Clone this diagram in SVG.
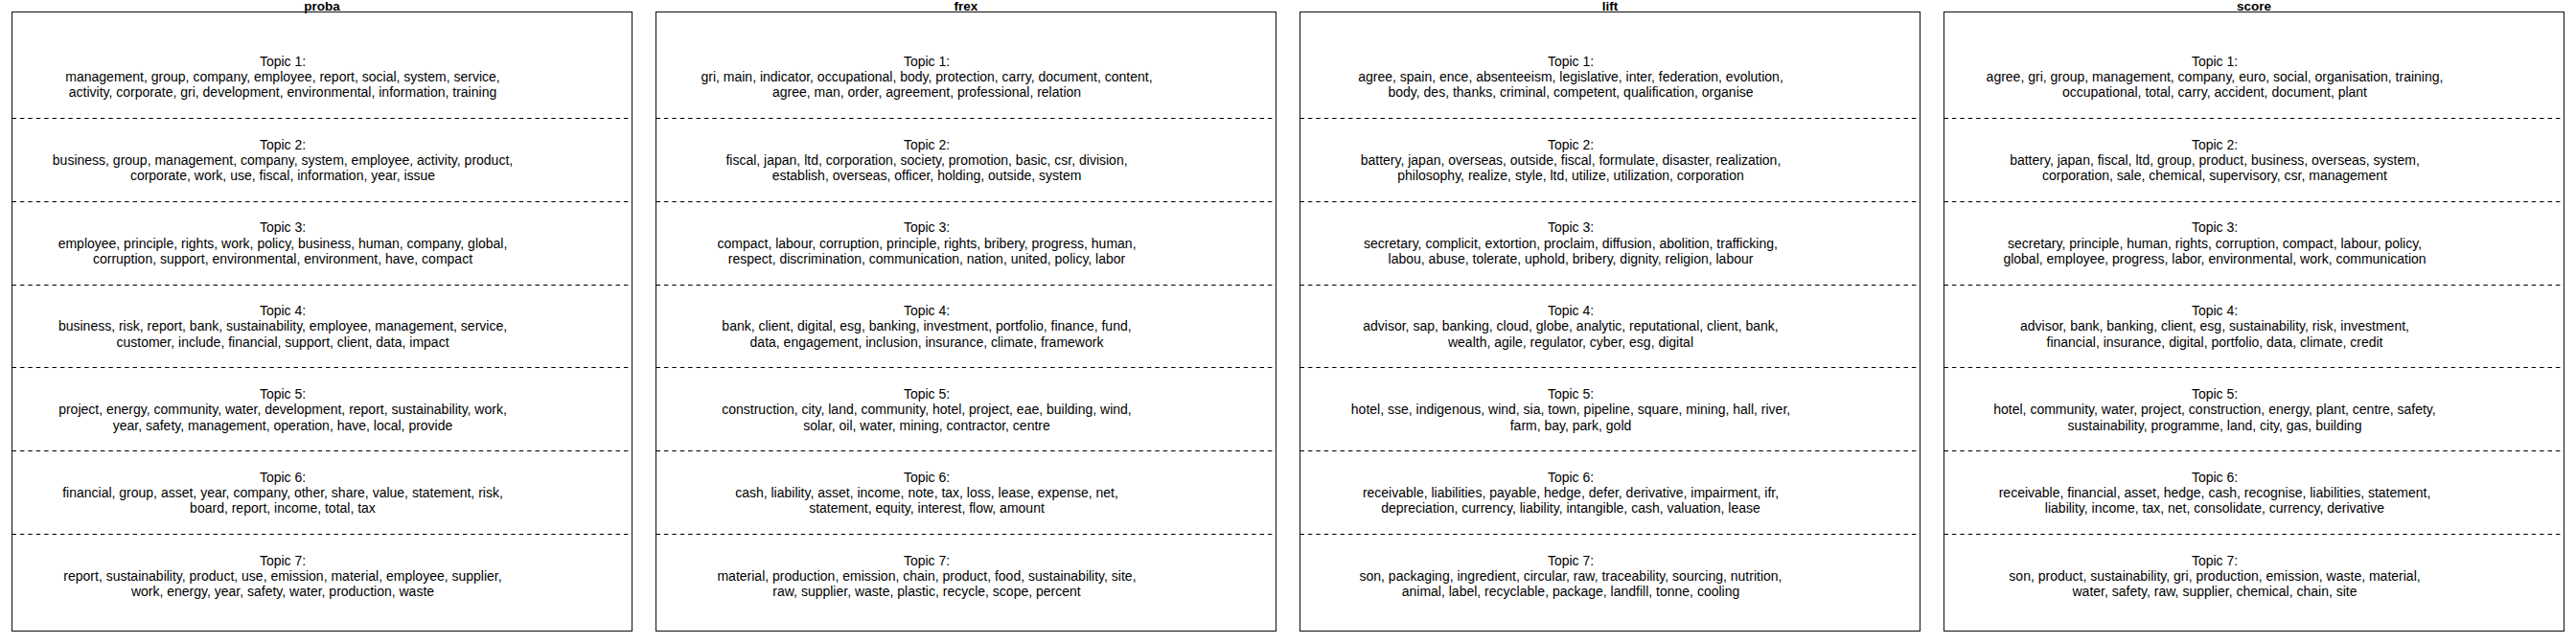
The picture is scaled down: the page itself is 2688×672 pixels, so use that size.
<svg xmlns="http://www.w3.org/2000/svg" width="2688" height="672" viewBox="0 0 2688 672">
<style>
.t{font-family:"Liberation Sans",Arial,Helvetica,sans-serif;font-size:14px;text-anchor:middle;fill:#000}
.h{font-family:"Liberation Sans",Arial,Helvetica,sans-serif;font-size:13.5px;font-weight:bold;text-anchor:middle;fill:#000}
.frame{fill:none;stroke:#222;stroke-width:1.2}
.sep{fill:none;stroke:#000;stroke-width:1;stroke-dasharray:4.5 3.9}
</style>
<rect x="0" y="0" width="2688" height="672" fill="#fff"/>

<g id="col-proba">
<text class="h" x="336" y="11">proba</text>
<rect class="frame" x="12.5" y="12.5" width="647" height="646"/>
<g class="seps">
<line class="sep" x1="12.5" y1="123.5" x2="659.5" y2="123.5"/>
<line class="sep" x1="12.5" y1="210.5" x2="659.5" y2="210.5"/>
<line class="sep" x1="12.5" y1="297.5" x2="659.5" y2="297.5"/>
<line class="sep" x1="12.5" y1="383.5" x2="659.5" y2="383.5"/>
<line class="sep" x1="12.5" y1="470.5" x2="659.5" y2="470.5"/>
<line class="sep" x1="12.5" y1="557.5" x2="659.5" y2="557.5"/>
</g>
<g id="proba-t1"><text class="t" x="295" y="68.7">Topic 1:</text><text class="t" x="295" y="85">management, group, company, employee, report, social, system, service,</text><text class="t" x="295" y="101.3">activity, corporate, gri, development, environmental, information, training</text></g>
<g id="proba-t2"><text class="t" x="295" y="155.5">Topic 2:</text><text class="t" x="295" y="171.8">business, group, management, company, system, employee, activity, product,</text><text class="t" x="295" y="188.1">corporate, work, use, fiscal, information, year, issue</text></g>
<g id="proba-t3"><text class="t" x="295" y="242.3">Topic 3:</text><text class="t" x="295" y="258.6">employee, principle, rights, work, policy, business, human, company, global,</text><text class="t" x="295" y="274.9">corruption, support, environmental, environment, have, compact</text></g>
<g id="proba-t4"><text class="t" x="295" y="329.1">Topic 4:</text><text class="t" x="295" y="345.4">business, risk, report, bank, sustainability, employee, management, service,</text><text class="t" x="295" y="361.7">customer, include, financial, support, client, data, impact</text></g>
<g id="proba-t5"><text class="t" x="295" y="415.9">Topic 5:</text><text class="t" x="295" y="432.2">project, energy, community, water, development, report, sustainability, work,</text><text class="t" x="295" y="448.5">year, safety, management, operation, have, local, provide</text></g>
<g id="proba-t6"><text class="t" x="295" y="502.7">Topic 6:</text><text class="t" x="295" y="519">financial, group, asset, year, company, other, share, value, statement, risk,</text><text class="t" x="295" y="535.3">board, report, income, total, tax</text></g>
<g id="proba-t7"><text class="t" x="295" y="589.5">Topic 7:</text><text class="t" x="295" y="605.8">report, sustainability, product, use, emission, material, employee, supplier,</text><text class="t" x="295" y="622.1">work, energy, year, safety, water, production, waste</text></g>
</g>

<g id="col-frex" transform="translate(672,0)">
<text class="h" x="336" y="11">frex</text>
<rect class="frame" x="12.5" y="12.5" width="647" height="646"/>
<g class="seps">
<line class="sep" x1="12.5" y1="123.5" x2="659.5" y2="123.5"/>
<line class="sep" x1="12.5" y1="210.5" x2="659.5" y2="210.5"/>
<line class="sep" x1="12.5" y1="297.5" x2="659.5" y2="297.5"/>
<line class="sep" x1="12.5" y1="383.5" x2="659.5" y2="383.5"/>
<line class="sep" x1="12.5" y1="470.5" x2="659.5" y2="470.5"/>
<line class="sep" x1="12.5" y1="557.5" x2="659.5" y2="557.5"/>
</g>
<g id="frex-t1"><text class="t" x="295" y="68.7">Topic 1:</text><text class="t" x="295" y="85">gri, main, indicator, occupational, body, protection, carry, document, content,</text><text class="t" x="295" y="101.3">agree, man, order, agreement, professional, relation</text></g>
<g id="frex-t2"><text class="t" x="295" y="155.5">Topic 2:</text><text class="t" x="295" y="171.8">fiscal, japan, ltd, corporation, society, promotion, basic, csr, division,</text><text class="t" x="295" y="188.1">establish, overseas, officer, holding, outside, system</text></g>
<g id="frex-t3"><text class="t" x="295" y="242.3">Topic 3:</text><text class="t" x="295" y="258.6">compact, labour, corruption, principle, rights, bribery, progress, human,</text><text class="t" x="295" y="274.9">respect, discrimination, communication, nation, united, policy, labor</text></g>
<g id="frex-t4"><text class="t" x="295" y="329.1">Topic 4:</text><text class="t" x="295" y="345.4">bank, client, digital, esg, banking, investment, portfolio, finance, fund,</text><text class="t" x="295" y="361.7">data, engagement, inclusion, insurance, climate, framework</text></g>
<g id="frex-t5"><text class="t" x="295" y="415.9">Topic 5:</text><text class="t" x="295" y="432.2">construction, city, land, community, hotel, project, eae, building, wind,</text><text class="t" x="295" y="448.5">solar, oil, water, mining, contractor, centre</text></g>
<g id="frex-t6"><text class="t" x="295" y="502.7">Topic 6:</text><text class="t" x="295" y="519">cash, liability, asset, income, note, tax, loss, lease, expense, net,</text><text class="t" x="295" y="535.3">statement, equity, interest, flow, amount</text></g>
<g id="frex-t7"><text class="t" x="295" y="589.5">Topic 7:</text><text class="t" x="295" y="605.8">material, production, emission, chain, product, food, sustainability, site,</text><text class="t" x="295" y="622.1">raw, supplier, waste, plastic, recycle, scope, percent</text></g>
</g>

<g id="col-lift" transform="translate(1344,0)">
<text class="h" x="336" y="11">lift</text>
<rect class="frame" x="12.5" y="12.5" width="647" height="646"/>
<g class="seps">
<line class="sep" x1="12.5" y1="123.5" x2="659.5" y2="123.5"/>
<line class="sep" x1="12.5" y1="210.5" x2="659.5" y2="210.5"/>
<line class="sep" x1="12.5" y1="297.5" x2="659.5" y2="297.5"/>
<line class="sep" x1="12.5" y1="383.5" x2="659.5" y2="383.5"/>
<line class="sep" x1="12.5" y1="470.5" x2="659.5" y2="470.5"/>
<line class="sep" x1="12.5" y1="557.5" x2="659.5" y2="557.5"/>
</g>
<g id="lift-t1"><text class="t" x="295" y="68.7">Topic 1:</text><text class="t" x="295" y="85">agree, spain, ence, absenteeism, legislative, inter, federation, evolution,</text><text class="t" x="295" y="101.3">body, des, thanks, criminal, competent, qualification, organise</text></g>
<g id="lift-t2"><text class="t" x="295" y="155.5">Topic 2:</text><text class="t" x="295" y="171.8">battery, japan, overseas, outside, fiscal, formulate, disaster, realization,</text><text class="t" x="295" y="188.1">philosophy, realize, style, ltd, utilize, utilization, corporation</text></g>
<g id="lift-t3"><text class="t" x="295" y="242.3">Topic 3:</text><text class="t" x="295" y="258.6">secretary, complicit, extortion, proclaim, diffusion, abolition, trafficking,</text><text class="t" x="295" y="274.9">labou, abuse, tolerate, uphold, bribery, dignity, religion, labour</text></g>
<g id="lift-t4"><text class="t" x="295" y="329.1">Topic 4:</text><text class="t" x="295" y="345.4">advisor, sap, banking, cloud, globe, analytic, reputational, client, bank,</text><text class="t" x="295" y="361.7">wealth, agile, regulator, cyber, esg, digital</text></g>
<g id="lift-t5"><text class="t" x="295" y="415.9">Topic 5:</text><text class="t" x="295" y="432.2">hotel, sse, indigenous, wind, sia, town, pipeline, square, mining, hall, river,</text><text class="t" x="295" y="448.5">farm, bay, park, gold</text></g>
<g id="lift-t6"><text class="t" x="295" y="502.7">Topic 6:</text><text class="t" x="295" y="519">receivable, liabilities, payable, hedge, defer, derivative, impairment, ifr,</text><text class="t" x="295" y="535.3">depreciation, currency, liability, intangible, cash, valuation, lease</text></g>
<g id="lift-t7"><text class="t" x="295" y="589.5">Topic 7:</text><text class="t" x="295" y="605.8">son, packaging, ingredient, circular, raw, traceability, sourcing, nutrition,</text><text class="t" x="295" y="622.1">animal, label, recyclable, package, landfill, tonne, cooling</text></g>
</g>

<g id="col-score" transform="translate(2016,0)">
<text class="h" x="336" y="11">score</text>
<rect class="frame" x="12.5" y="12.5" width="647" height="646"/>
<g class="seps">
<line class="sep" x1="12.5" y1="123.5" x2="659.5" y2="123.5"/>
<line class="sep" x1="12.5" y1="210.5" x2="659.5" y2="210.5"/>
<line class="sep" x1="12.5" y1="297.5" x2="659.5" y2="297.5"/>
<line class="sep" x1="12.5" y1="383.5" x2="659.5" y2="383.5"/>
<line class="sep" x1="12.5" y1="470.5" x2="659.5" y2="470.5"/>
<line class="sep" x1="12.5" y1="557.5" x2="659.5" y2="557.5"/>
</g>
<g id="score-t1"><text class="t" x="295" y="68.7">Topic 1:</text><text class="t" x="295" y="85">agree, gri, group, management, company, euro, social, organisation, training,</text><text class="t" x="295" y="101.3">occupational, total, carry, accident, document, plant</text></g>
<g id="score-t2"><text class="t" x="295" y="155.5">Topic 2:</text><text class="t" x="295" y="171.8">battery, japan, fiscal, ltd, group, product, business, overseas, system,</text><text class="t" x="295" y="188.1">corporation, sale, chemical, supervisory, csr, management</text></g>
<g id="score-t3"><text class="t" x="295" y="242.3">Topic 3:</text><text class="t" x="295" y="258.6">secretary, principle, human, rights, corruption, compact, labour, policy,</text><text class="t" x="295" y="274.9">global, employee, progress, labor, environmental, work, communication</text></g>
<g id="score-t4"><text class="t" x="295" y="329.1">Topic 4:</text><text class="t" x="295" y="345.4">advisor, bank, banking, client, esg, sustainability, risk, investment,</text><text class="t" x="295" y="361.7">financial, insurance, digital, portfolio, data, climate, credit</text></g>
<g id="score-t5"><text class="t" x="295" y="415.9">Topic 5:</text><text class="t" x="295" y="432.2">hotel, community, water, project, construction, energy, plant, centre, safety,</text><text class="t" x="295" y="448.5">sustainability, programme, land, city, gas, building</text></g>
<g id="score-t6"><text class="t" x="295" y="502.7">Topic 6:</text><text class="t" x="295" y="519">receivable, financial, asset, hedge, cash, recognise, liabilities, statement,</text><text class="t" x="295" y="535.3">liability, income, tax, net, consolidate, currency, derivative</text></g>
<g id="score-t7"><text class="t" x="295" y="589.5">Topic 7:</text><text class="t" x="295" y="605.8">son, product, sustainability, gri, production, emission, waste, material,</text><text class="t" x="295" y="622.1">water, safety, raw, supplier, chemical, chain, site</text></g>
</g>
</svg>
